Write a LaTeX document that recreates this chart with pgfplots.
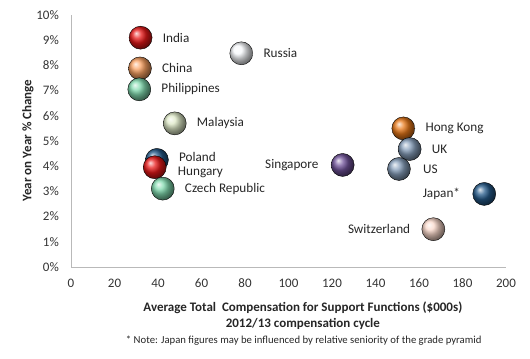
\documentclass[border=0pt]{standalone}
\usepackage{pgfplots}
\pgfplotsset{compat=1.18}
\usepackage{fontspec}
\setmainfont{Carlito}
\definecolor{cIndia}{HTML}{E81818}
\definecolor{cChina}{HTML}{F9A060}
\definecolor{cPhil}{HTML}{80DAAE}
\definecolor{cRussia}{HTML}{F6F8FB}
\definecolor{cMalay}{HTML}{DDE8C6}
\definecolor{cPoland}{HTML}{245A8A}
\definecolor{cCzech}{HTML}{80DAAE}
\definecolor{cHK}{HTML}{E87818}
\definecolor{cUK}{HTML}{869EBA}
\definecolor{cSing}{HTML}{70529A}
\definecolor{cJapan}{HTML}{245A8A}
\definecolor{cSwiss}{HTML}{FAD8CA}
\newcommand\bubble[7]{%
  \addplot[only marks, mark=ball, mark size=11.5bp, mark options={ball color=#3},
    nodes near coords={#4},
    every node near coord/.append style={anchor=#5, xshift=#6, yshift=#7, inner sep=0pt,
      font=\fontsize{13.2bp}{15bp}\selectfont, text=black!85}]
    coordinates {(#1,#2)};}
\begin{document}
\begin{tikzpicture}
\path[use as bounding box] (0,0) rectangle (530bp,359bp);
\begin{axis}[
  at={(71bp,92bp)}, anchor=south west,
  scale only axis, width=435bp, height=252bp,
  xmin=0, xmax=200, ymin=0, ymax=10,
  axis x line*=bottom, axis y line*=left,
  axis line style={gray!55, line width=1bp, -},
  major tick length=0pt,
  xtick={0,20,...,200}, ytick={0,1,...,10},
  yticklabel={\pgfmathprintnumber{\tick}\%},
  /pgf/number format/assume math mode=true,
  tick label style={font=\fontsize{13bp}{15bp}\selectfont, text=black!80},
  xticklabel style={anchor=center, inner sep=0pt, yshift=-16bp},
  yticklabel style={anchor=east, inner sep=0pt, xshift=-12bp},
  clip=false,
  xlabel={Average Total\ \ Compensation for Support Functions (\$000s)\\2012/13 compensation cycle},
  xlabel style={align=center, font=\bfseries\fontsize{13bp}{16bp}\selectfont, text=black!85,
    at={(axis description cs:0.533,-0.194)}, anchor=center},
  ylabel={Year on Year \% Change},
  ylabel style={font=\bfseries\fontsize{13bp}{15bp}\selectfont, text=black!85,
    at={(axis description cs:-0.099,0.502)}, anchor=center},
]
\bubble{32}{9.1}{cIndia}{India}{west}{22bp}{0bp}
\bubble{78.3}{8.48}{cRussia}{Russia}{west}{22bp}{0bp}
\bubble{31.7}{7.88}{cChina}{China}{west}{22bp}{0bp}
\bubble{31.4}{7.05}{cPhil}{Philippines}{west}{22bp}{0bp}
\bubble{47.7}{5.7}{cMalay}{Malaysia}{west}{22bp}{0bp}
\bubble{39.5}{4.25}{cPoland}{Poland}{west}{22bp}{3bp}
\bubble{38.5}{3.96}{cIndia}{Hungary}{west}{23bp}{-5bp}
\bubble{42.2}{3.11}{cCzech}{Czech Republic}{west}{22bp}{0bp}
\bubble{152.8}{5.5}{cHK}{Hong Kong}{west}{22bp}{0bp}
\bubble{155.7}{4.68}{cUK}{UK}{west}{22bp}{0bp}
\bubble{150.8}{3.89}{cUK}{US}{west}{24bp}{0bp}
\bubble{124.9}{4.05}{cSing}{Singapore}{east}{-24bp}{0bp}
\bubble{190}{2.9}{cJapan}{Japan*}{east}{-24bp}{0bp}
\bubble{166.6}{1.5}{cSwiss}{Switzerland}{east}{-23bp}{0bp}
\node[font=\fontsize{10.7bp}{12bp}\selectfont, text=black!85] at (axis description cs:0.535,-0.292)
  {* Note: Japan figures may be influenced by relative seniority of the grade pyramid};
\end{axis}
\end{tikzpicture}
\end{document}
